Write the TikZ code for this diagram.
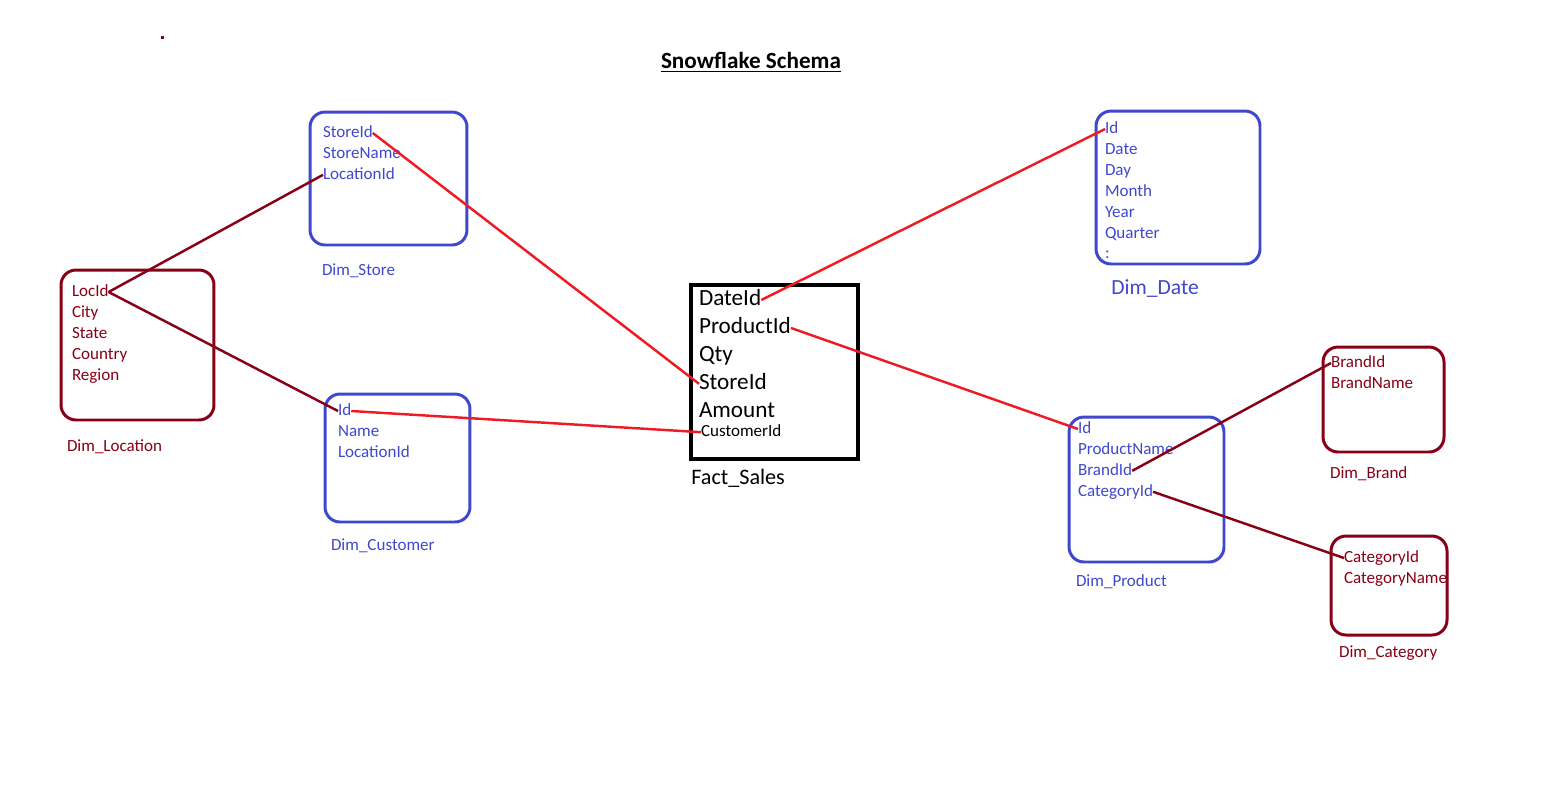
\documentclass[tikz,border=0pt]{standalone}
\usepackage{fontspec}
\setmainfont{Carlito}
\usetikzlibrary{positioning}

\definecolor{dimblue}{RGB}{63,72,204}
\definecolor{darkred}{RGB}{136,0,21}
\definecolor{linkred}{RGB}{237,28,36}

\begin{document}
\begin{tikzpicture}[x=0.02cm,y=-0.02cm,
    dim box/.style={draw,line width=1.7pt,rounded corners=0.3cm,inner sep=0pt},
    field/.style={inner sep=0pt,outer sep=0pt,anchor=west,text height=8.5pt,text depth=3.4pt,font=\fontsize{9.7}{11.9}\selectfont},
    big field/.style={inner sep=0pt,outer sep=0pt,anchor=west,text height=11.3pt,text depth=4.6pt,font=\fontsize{13.2}{15.9}\selectfont},
    fact link/.style={draw=linkred,line width=1.4pt},
    dim link/.style={draw=darkred,line width=1.4pt}]
    \useasboundingbox (0,0) rectangle (1547,796);
    \fill[darkred] (160.5,35.5) rectangle (163.5,38.5);

    \node[font=\fontsize{13.2}{15.9}\selectfont\bfseries] (title) at (751,62) {\underline{Snowflake Schema}};

    % fact table
    \node[draw,line width=1.8pt,minimum width=3.34cm,minimum height=3.48cm,inner sep=0pt] (fact) at (774.5,372) {};
    \node[big field] (fDateId) at (699,300) {DateId};
    \node[big field] (fProductId) [below right=0pt and 0pt of fDateId.south west] {ProductId};
    \node[big field] (fQty) [below right=0pt and 0pt of fProductId.south west] {Qty};
    \node[big field] (fStoreId) [below right=0pt and 0pt of fQty.south west] {StoreId};
    \node[big field] (fAmount) [below right=0pt and 0pt of fStoreId.south west] {Amount};
    \node[field] (fCustomerId) [below right=-0.08cm and 0.04cm of fAmount.south west] {CustomerId};
    \node[inner sep=0pt,anchor=west,font=\fontsize{12.6}{15}\selectfont] (factLabel) at (691,478) {Fact\_Sales};

    % store
    \node[dim box,dimblue,minimum width=3.14cm,minimum height=2.66cm] (store) at (388.5,178.5) {};
    \node[field,dimblue] (sStoreId) at (323,133) {StoreId};
    \node[field,dimblue] (sStoreName) [below right=0pt and 0pt of sStoreId.south west] {StoreName};
    \node[field,dimblue] (sLocationId) [below right=0pt and 0pt of sStoreName.south west] {LocationId};
    \node[field,dimblue] (storeLabel) at (322,271) {Dim\_Store};

    % location
    \node[dim box,darkred,minimum width=3.06cm,minimum height=3cm] (location) at (137.5,345) {};
    \node[field,darkred] (lLocId) at (72,292) {LocId};
    \node[field,darkred] (lCity) [below right=0pt and 0pt of lLocId.south west] {City};
    \node[field,darkred] (lState) [below right=0pt and 0pt of lCity.south west] {State};
    \node[field,darkred] (lCountry) [below right=0pt and 0pt of lState.south west] {Country};
    \node[field,darkred] (lRegion) [below right=0pt and 0pt of lCountry.south west] {Region};
    \node[field,darkred] (locationLabel) at (67,447) {Dim\_Location};

    % customer
    \node[dim box,dimblue,minimum width=2.9cm,minimum height=2.56cm] (customer) at (397.5,458) {};
    \node[field,dimblue] (cId) at (338,411) {Id};
    \node[field,dimblue] (cName) [below right=0pt and 0pt of cId.south west] {Name};
    \node[field,dimblue] (cLocationId) [below right=0pt and 0pt of cName.south west] {LocationId};
    \node[field,dimblue] (customerLabel) at (331,546) {Dim\_Customer};

    % date
    \node[dim box,dimblue,minimum width=3.28cm,minimum height=3.06cm] (date) at (1178,187.5) {};
    \node[field,dimblue] (dId) at (1105,129) {Id};
    \node[field,dimblue] (dDate) [below right=0pt and 0pt of dId.south west] {Date};
    \node[field,dimblue] (dDay) [below right=0pt and 0pt of dDate.south west] {Day};
    \node[field,dimblue] (dMonth) [below right=0pt and 0pt of dDay.south west] {Month};
    \node[field,dimblue] (dYear) [below right=0pt and 0pt of dMonth.south west] {Year};
    \node[field,dimblue] (dQuarter) [below right=0pt and 0pt of dYear.south west] {Quarter};
    \node[field,dimblue] (dMore) [below right=0pt and 0pt of dQuarter.south west] {:};
    \node[inner sep=0pt,anchor=west,dimblue,font=\fontsize{12.3}{15}\selectfont] (dateLabel) at (1111,289) {Dim\_Date};

    % product
    \node[dim box,dimblue,minimum width=3.1cm,minimum height=2.9cm] (product) at (1146.5,489.5) {};
    \node[field,dimblue] (pId) at (1078,429) {Id};
    \node[field,dimblue] (pProductName) [below right=0pt and 0pt of pId.south west] {ProductName};
    \node[field,dimblue] (pBrandId) [below right=0pt and 0pt of pProductName.south west] {BrandId};
    \node[field,dimblue] (pCategoryId) [below right=0pt and 0pt of pBrandId.south west] {CategoryId};
    \node[field,dimblue] (productLabel) at (1076,582) {Dim\_Product};

    % brand
    \node[dim box,darkred,minimum width=2.42cm,minimum height=2.1cm] (brand) at (1383.5,399.5) {};
    \node[field,darkred] (bBrandId) at (1331,363) {BrandId};
    \node[field,darkred] (bBrandName) [below right=0pt and 0pt of bBrandId.south west] {BrandName};
    \node[field,darkred] (brandLabel) at (1330,474) {Dim\_Brand};

    % category
    \node[dim box,darkred,minimum width=2.32cm,minimum height=1.98cm] (category) at (1389,585.5) {};
    \node[field,darkred] (gCategoryId) at (1344,558) {CategoryId};
    \node[field,darkred] (gCategoryName) [below right=0pt and 0pt of gCategoryId.south west] {CategoryName};
    \node[field,darkred] (categoryLabel) at (1339,653) {Dim\_Category};

    \path[fact link]
        (sStoreId.east) edge (fStoreId.west)
        (dId.west) edge (fDateId.east)
        (fProductId.east) edge (pId.west)
        (cId.east) edge (fCustomerId.west)
    ;
    \path[dim link]
        (lLocId.east) edge (sLocationId.west)
        (lLocId.east) edge (cId.west)
        (pBrandId.east) edge (bBrandId.west)
        (pCategoryId.east) edge (gCategoryId.west)
    ;
\end{tikzpicture}
\end{document}
